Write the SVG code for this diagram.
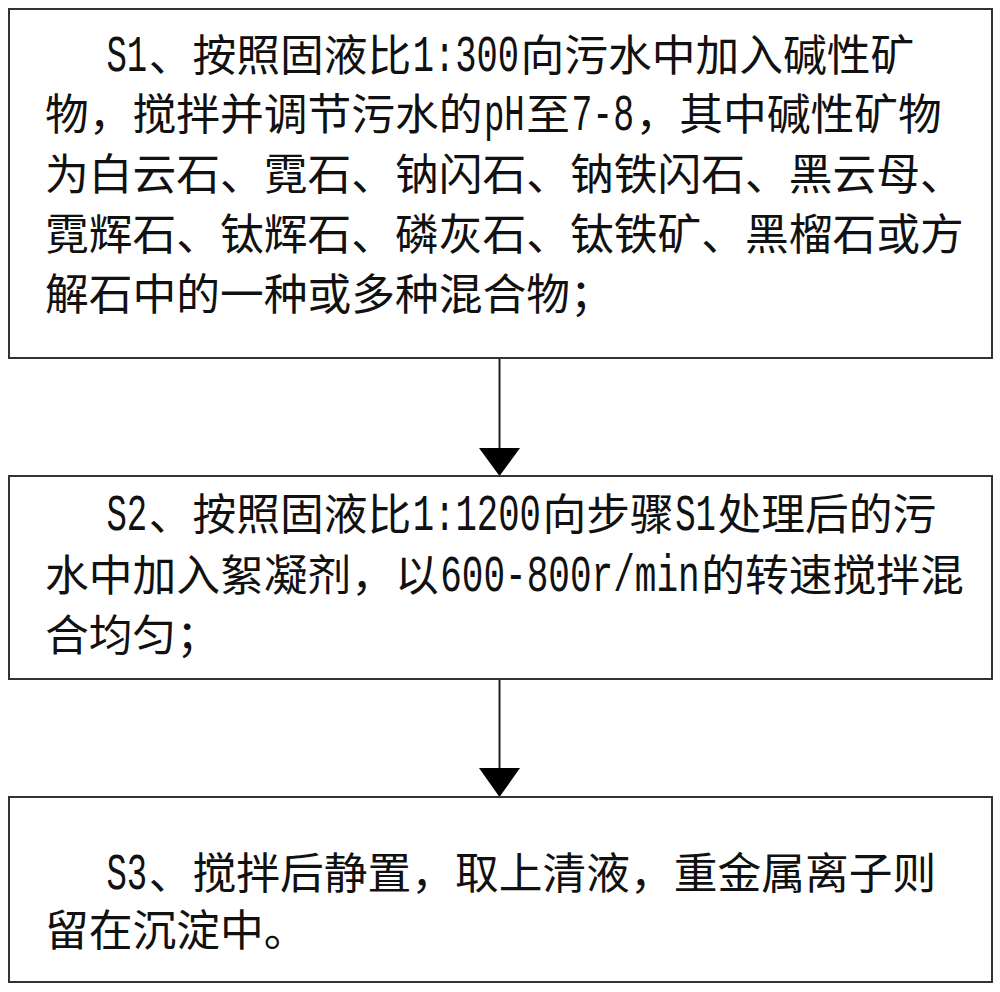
<svg xmlns="http://www.w3.org/2000/svg" width="1000" height="992" viewBox="0 0 1000 992">
<defs>
<style>
.box{fill:#fff;stroke:#333;stroke-width:2}
.t{font-family:"Noto Sans CJK SC","Noto Sans CJK JP",sans-serif;font-size:43.75px;fill:#111}
.l{font-family:"Liberation Mono","DejaVu Sans Mono",monospace;font-size:52px;fill:#111}
.conn{stroke:#222;stroke-width:2;fill:none}
.head{fill:#000}
</style>
</defs>
<rect width="1000" height="992" fill="#fff"/>
<g id="connectors">
<line class="conn" x1="499.5" y1="358" x2="499.5" y2="452"/>
<polygon class="head" points="479,448 520,448 499.5,476"/>
<line class="conn" x1="499.5" y1="679" x2="499.5" y2="772"/>
<polygon class="head" points="479,768 520,768 499.5,797"/>
</g>
<g id="s1">
<rect class="box" x="9" y="9" width="983" height="349"/>
<text class="l" transform="translate(106.5,70.5) scale(0.653,1)">S1</text>
<text class="t" x="148.75" y="70.5">、按照固液比</text>
<text class="l" transform="translate(412.75,70.5) scale(0.682,1)">1:300</text>
<text class="t" x="520.6" y="70.5">向污水中加入碱性矿</text>
<text class="t" x="45" y="130.25">物，搅拌并调节污水的</text>
<text class="l" transform="translate(484,130.25) scale(0.653,1)">pH</text>
<text class="t" x="526.25" y="130.25">至</text>
<text class="l" transform="translate(571.5,130.25) scale(0.669,1)">7-8</text>
<text class="t" x="635.6" y="130.25">，其中碱性矿物</text>
<text class="t" x="45" y="190">为白云石、霓石、钠闪石、钠铁闪石、黑云母、</text>
<text class="t" x="45" y="249.75">霓辉石、钛辉石、磷灰石、钛铁矿、黑榴石或方</text>
<text class="t" x="45" y="309.5">解石中的一种或多种混合物；</text>
</g>
<g id="s2">
<rect class="box" x="9" y="476" width="983" height="203"/>
<text class="l" transform="translate(106.5,530) scale(0.653,1)">S2</text>
<text class="t" x="148.75" y="530">、按照固液比</text>
<text class="l" transform="translate(412.75,530) scale(0.685,1)">1:1200</text>
<text class="t" x="542.5" y="530">向步骤</text>
<text class="l" transform="translate(675.25,530) scale(0.653,1)">S1</text>
<text class="t" x="717.5" y="530">处理后的污</text>
<text class="t" x="45" y="590.5">水中加入絮凝剂，以</text>
<text class="l" transform="translate(440.25,590.5) scale(0.693,1)">600-800r/min</text>
<text class="t" x="701.25" y="590.5">的转速搅拌混</text>
<text class="t" x="45" y="651">合均匀；</text>
</g>
<g id="s3">
<rect class="box" x="9" y="797" width="983" height="185"/>
<text class="l" transform="translate(106.5,889) scale(0.653,1)">S3</text>
<text class="t" x="148.75" y="889">、搅拌后静置，取上清液，重金属离子则</text>
<text class="t" x="45" y="946">留在沉淀中。</text>
</g>
</svg>
